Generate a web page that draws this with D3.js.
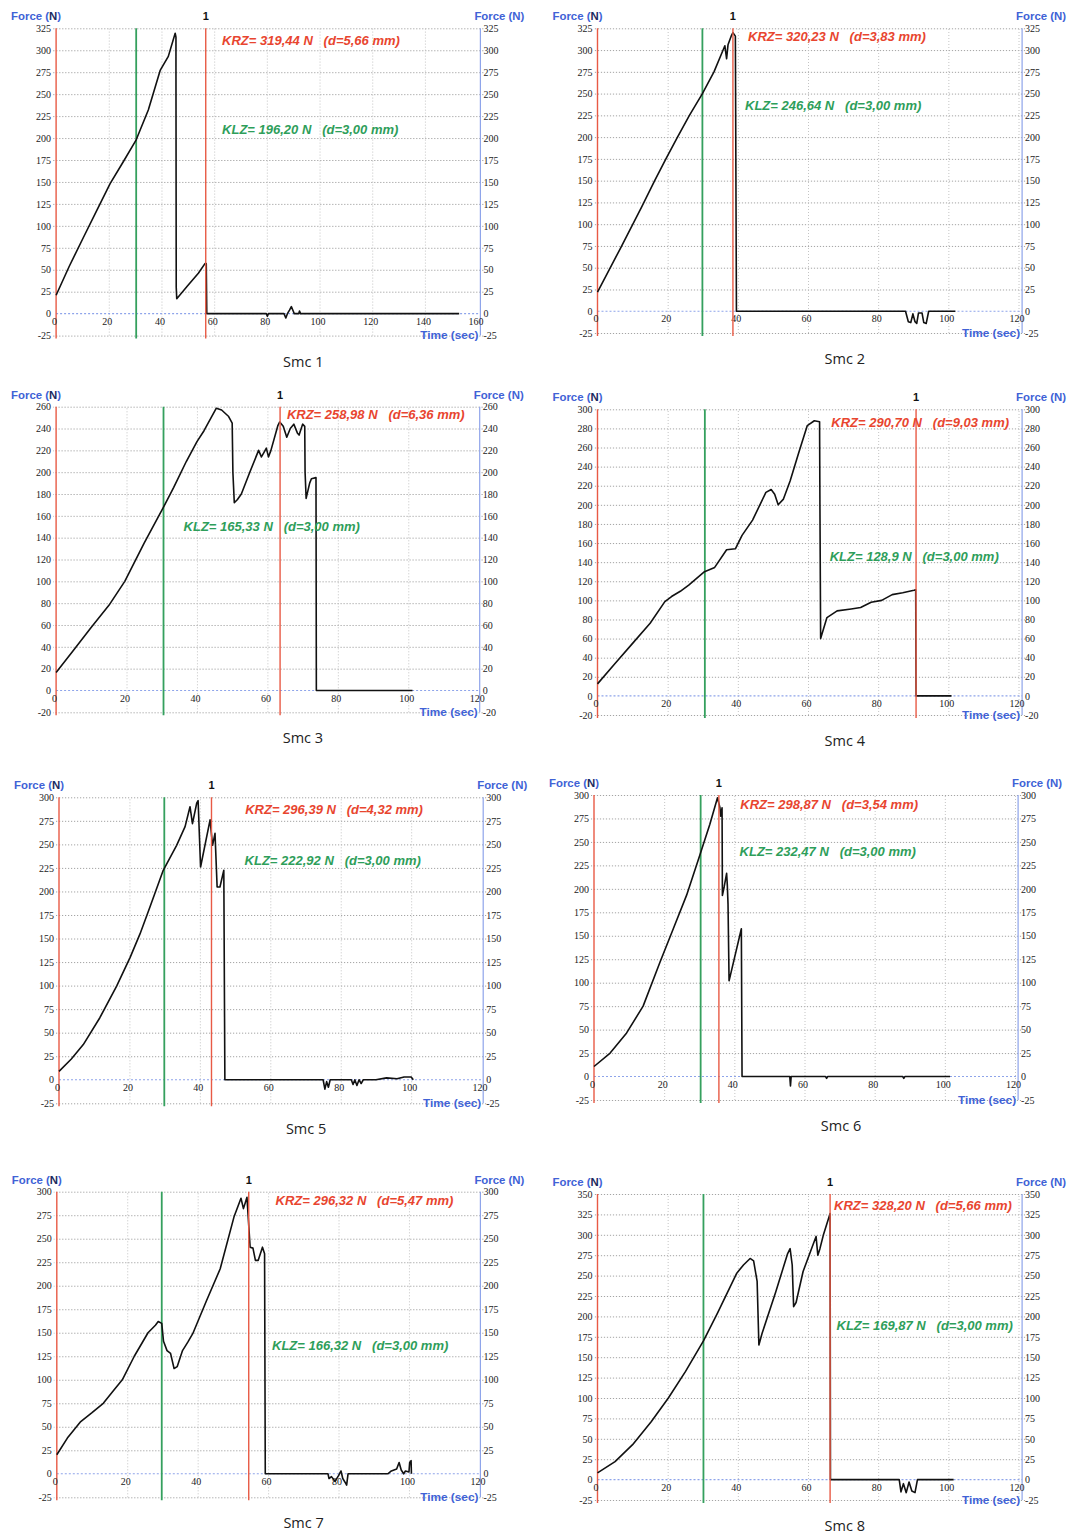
<!DOCTYPE html>
<html><head><meta charset="utf-8">
<script src="https://cdn.jsdelivr.net/npm/d3@7"></script>
<style>body{margin:0;background:#fff} svg{display:block}</style>
</head><body>
<svg id="c" width="1067" height="1534"></svg>
<script>
// ---------- DATA ----------
const panelTitles = ["Smc 1","Smc 2","Smc 3","Smc 4","Smc 5","Smc 6","Smc 7","Smc 8"];
const krzLabels = ["KRZ= 319,44 N   (d=5,66 mm)","KRZ= 320,23 N   (d=3,83 mm)","KRZ= 258,98 N   (d=6,36 mm)","KRZ= 290,70 N   (d=9,03 mm)",
                   "KRZ= 296,39 N   (d=4,32 mm)","KRZ= 298,87 N   (d=3,54 mm)","KRZ= 296,32 N   (d=5,47 mm)","KRZ= 328,20 N   (d=5,66 mm)"];
const klzLabels = ["KLZ= 196,20 N   (d=3,00 mm)","KLZ= 246,64 N   (d=3,00 mm)","KLZ= 165,33 N   (d=3,00 mm)","KLZ= 128,9 N   (d=3,00 mm)",
                   "KLZ= 222,92 N   (d=3,00 mm)","KLZ= 232,47 N   (d=3,00 mm)","KLZ= 166,32 N   (d=3,00 mm)","KLZ= 169,87 N   (d=3,00 mm)"];
const krzTimes = [56.8, 38.6, 63.6, 90.8, 43.3, 35.6, 54.5, 66.3];
const klzTimes = [30.4, 29.9, 30.5, 30.6, 29.9, 30.4, 29.8, 30.2];
const yMinValues = [-25,-25,-20,-20,-25,-25,-25,-25];
const yMaxValues = [325,325,260,300,300,300,300,350];
const yTickSteps = [25,25,20,20,25,25,25,25];
const xMaxValues = [160,120,120,120,120,120,120,120];
const xTickStep = 20;

const smc1 = [[0,21],[5,54],[10.4,87],[15.5,118],[20.5,148],[25.5,173],[30.4,198],[35,232],[39.5,277],[42.6,293],[45.2,319.4],[45.5,315],[45.5,280],[45.6,30],[45.8,17],[50,32],[54,46],[56.5,57],[57,57],[57.2,0],[79.8,0],[80.2,-3],[80.6,0],[86.5,0],[87.2,-5],[87.8,0],[88.6,4],[89.3,8],[90,3],[90.4,0],[92.1,0],[92.4,3],[92.8,0],[153,0]];
const smc2 = [[0,22],[6.5,72],[12.6,120],[16.3,150],[19.5,175],[22.8,200],[26.2,225],[29.9,250],[33.2,275],[35.8,300],[36.3,305],[36.8,290],[37.2,306],[38.2,317],[38.6,320],[39.3,316],[39.6,0],[87.8,0],[88.6,-12],[89.3,-13],[89.9,-3],[90.5,-12],[91,-14],[91.5,-2],[92.5,-2],[93,-13],[93.7,-14],[94.4,0],[102,0]];
const smc3 = [[0,16.5],[5,37],[10,58],[15,78],[19.5,100],[25,135],[30.5,168],[33.4,186],[37,210],[40,228],[42,238],[45.5,258.6],[47,257],[49,251],[50,245],[50.2,200],[50.6,172],[51.5,175],[52.6,180],[55,200],[57.5,220],[58.3,214],[59,218],[59.7,222],[60.3,214],[61,220],[63,243],[63.5,246],[64.5,242],[65.5,232],[66.5,240],[67.5,244],[68.5,236],[69,234],[70,244],[70.6,242],[70.7,200],[71,176],[72,190],[72.5,194],[73.8,195],[73.9,0],[101.2,0]];
const smc4 = [[0,12.6],[5,34],[10,55],[15,76],[19.2,98.7],[21.1,104],[23.6,109.5],[26,116],[30.5,130],[33.4,134.5],[36.8,153],[39.3,154],[41.2,168],[44.2,184],[48,213],[49.5,216],[50.5,211],[51.5,200],[53,206],[54.9,225],[57.4,255],[59.8,283],[61.8,288],[63.3,287],[63.4,200],[63.6,60],[65.4,82],[68.3,89],[72.3,91],[75,92.5],[78,98],[81,100],[84,106],[87,108],[90.2,110.5],[90.7,111],[90.8,0],[100.9,0]];
const smc5 = [[0,8.9],[3.5,22],[6.9,37.4],[11.6,65.9],[16.4,99.7],[20.2,130],[23,154.9],[25.8,183.3],[29.6,222.5],[33.4,249],[35.8,268.8],[37.2,290],[37.9,272],[39.1,293.7],[39.5,296.4],[40.2,226],[42.9,276],[43.6,249],[44.3,261.7],[44.9,204.7],[45.7,204.7],[46.8,222.5],[47.1,0],[75,0],[75.5,-10],[76,-2],[76.5,-8],[77,0],[83,0],[83.5,-5],[84,0],[84.6,-6],[85.2,0],[85.8,-4],[86.4,0],[90,0],[93,2],[96,1],[98,3],[100,3],[100.6,0]];
const smc6 = [[0,10.7],[4.6,25],[9.3,46.5],[14,75],[18.8,121.7],[22.6,157.5],[26.4,193.3],[30.2,236.3],[33,268.5],[35.2,297.1],[35.9,286.4],[36.1,277.5],[36.5,286.4],[36.6,193],[37.1,202],[37.8,216.6],[38,204],[38.2,184],[38.5,102],[42,157.5],[42.2,0],[55.8,0],[56,-10],[56.2,0],[66,0],[66.3,-2],[66.6,0],[88,0],[88.3,-2],[88.6,0],[101.5,0]];
const smc7 = [[0,20.2],[3,38],[6.8,55.6],[10,65],[13.2,75],[16,88],[18.6,100],[22,125],[25.9,150],[28,158],[28.8,162],[29.8,160],[30.3,141],[31.3,131],[32.3,128],[33.3,112],[34.2,114],[35.7,131],[37.2,140],[38.6,149],[42.5,184],[46.4,218],[50.3,273],[52.3,293],[53,282],[54,294],[54.4,270],[54.9,241],[55.7,240],[56.4,227],[57.2,227],[58.4,241],[59,234],[59.2,0],[77,0],[77.3,-5],[78,-3],[79,-8],[80,-2],[80.7,3],[81.2,-5],[82,-10],[82.3,-12],[82.7,0],[94,0],[95,3],[96.5,5],[97.2,12],[97.8,4],[98.5,0],[99,3],[100,2],[100.2,12],[100.6,14],[100.7,0]];
const smc8 = [[0,8.2],[5,22],[10,42.8],[15.3,71],[20.2,100],[25.1,132.6],[30.2,170],[34.2,204],[39.7,253],[41.6,263],[43.5,271],[44.5,268],[45.5,243],[46,165],[46.9,179],[50.8,230],[54.2,277],[54.9,283],[55.5,263],[55.9,212],[56.6,217],[58.6,255],[61,283],[62.3,298],[62.8,275],[63.4,283],[64.4,300],[66.3,326],[66.4,0],[86,0],[86.5,-15],[87.2,-5],[88,-16],[88.8,-3],[89.6,-14],[90.5,-16],[91.2,0],[101.5,0]];
const seriesList = [smc1,smc2,smc3,smc4,smc5,smc6,smc7,smc8];

// ---------- LAYOUT (pixels) ----------
const layout = [
  {left:56.1, right:480.4,  top:28.3,   bottom:335.6,  span:421.5, krz:[222.1,40.7],  klz:[222.1,129.3]},
  {left:597.5,right:1022.1, top:28.3,   bottom:333,    span:421,   krz:[748.1,36.7],  klz:[745,105]},
  {left:56.1, right:479.7,  top:406.7,  bottom:712.3,  span:422.6, krz:[286.9,414.3], klz:[183.6,526.7]},
  {left:597.5,right:1022.1, top:409.3,  bottom:715,    span:421,   krz:[831.3,422.3], klz:[829.7,556.7]},
  {left:59,   right:483.2,  top:797.3,  bottom:1103.3, span:422.6, krz:[245.2,809.3], klz:[244.6,860.7]},
  {left:594,  right:1018.1, top:795,    bottom:1100,   span:421,   krz:[740.3,804.3], klz:[739.6,851.7]},
  {left:56.8, right:480.4,  top:1191.7, bottom:1497.3, span:422.6, krz:[275.6,1200],  klz:[272,1345]},
  {left:597.5,right:1022.1, top:1194,   bottom:1500,   span:421,   krz:[834.1,1205],  klz:[836.5,1325]}
];

const BLUE = "#4062d6", AXBLUE = "#8ea4ea", RED = "#e8452f", REDLINE = "#e85a45", GREEN = "#2e9e5a", GREENLINE = "#35a05e";
const SANS = "'Liberation Sans', Arial, sans-serif";
const svg = d3.select("#c");

seriesList.forEach((data, i) => {
  const L = layout[i];
  const x = d3.scaleLinear().domain([0, xMaxValues[i]]).range([L.left, L.left + L.span]);
  const y = d3.scaleLinear().domain([yMinValues[i], yMaxValues[i]]).range([L.bottom, L.top]);
  const yTicks = d3.range(yMinValues[i], yMaxValues[i] + 0.001, yTickSteps[i]);
  const xTicks = d3.range(0, xMaxValues[i] + 0.001, xTickStep);
  const g = svg.append("g");

  // horizontal grid
  g.append("g").attr("transform", `translate(${L.right + 3},0)`)
    .call(d3.axisLeft(y).tickValues(yTicks.filter(v => v !== 0)).tickSize(L.right - L.left + 6).tickFormat(""))
    .call(s => s.select(".domain").remove())
    .selectAll("line").attr("stroke", "#9a9a9a").attr("stroke-dasharray", "1.2,1.8").attr("stroke-width", 0.9);
  // vertical grid
  g.append("g").attr("transform", `translate(0,${L.bottom})`)
    .call(d3.axisBottom(x).tickValues(xTicks.filter(v => v > 0 && x(v) < L.right - 3)).tickSize(-(L.bottom - L.top)).tickFormat(""))
    .call(s => s.select(".domain").remove())
    .selectAll("line").attr("stroke", "#bdbdbd").attr("stroke-dasharray", "1,2").attr("stroke-width", 0.9);
  // zero line (blue dotted)
  g.append("line").attr("x1", L.left).attr("x2", L.right).attr("y1", y(0)).attr("y2", y(0))
    .attr("stroke", AXBLUE).attr("stroke-dasharray", "2,2").attr("stroke-width", 1.1);

  // right axis line
  g.append("line").attr("x1", L.right).attr("x2", L.right).attr("y1", L.top).attr("y2", L.bottom)
    .attr("stroke", AXBLUE).attr("stroke-width", 1.2);
  // left axis line (red)
  g.append("line").attr("x1", L.left).attr("x2", L.left).attr("y1", L.top).attr("y2", L.bottom + 3)
    .attr("stroke", REDLINE).attr("stroke-width", 1.4);
  // KLZ green line
  g.append("line").attr("x1", x(klzTimes[i])).attr("x2", x(klzTimes[i])).attr("y1", L.top).attr("y2", L.bottom + 3)
    .attr("stroke", GREENLINE).attr("stroke-width", 1.8);

  // tick labels
  const tickStyle = s => {
    s.select(".domain").remove();
    s.selectAll("line").remove();
    s.selectAll("text").attr("font-family", "'Liberation Serif', 'DejaVu Serif', serif").attr("font-size", 10).attr("fill", "#222");
  };
  const fmt = d => String(d);
  g.append("g").attr("transform", `translate(${L.left},0)`)
    .call(d3.axisLeft(y).tickValues(yTicks).tickSize(0).tickPadding(5).tickFormat(fmt)).call(tickStyle);
  g.append("g").attr("transform", `translate(${L.right},0)`)
    .call(d3.axisRight(y).tickValues(yTicks).tickSize(0).tickPadding(3).tickFormat(fmt)).call(tickStyle);
  g.append("g").attr("transform", `translate(-2,${y(0)})`)
    .call(d3.axisBottom(x).tickValues(xTicks).tickSize(0).tickPadding(4).tickFormat(fmt)).call(tickStyle);

  // data curve
  g.append("path").datum(data)
    .attr("d", d3.line().x(d => x(d[0])).y(d => y(d[1])))
    .attr("fill", "none").attr("stroke", "#111").attr("stroke-width", 1.6).attr("stroke-linejoin", "round");

  // KRZ red line
  g.append("line").attr("x1", x(krzTimes[i])).attr("x2", x(krzTimes[i])).attr("y1", L.top).attr("y2", L.bottom + 3)
    .attr("stroke", REDLINE).attr("stroke-width", 1.4);
  // marker "1"
  g.append("text").attr("x", x(krzTimes[i])).attr("y", L.top - 8).attr("text-anchor", "middle")
    .attr("font-family", SANS).attr("font-weight", "bold").attr("font-size", 11)
    .attr("fill", "#111").text("1");

  // Force labels
  const lf = g.append("text").attr("x", L.left - 20).attr("y", L.top - 8).attr("text-anchor", "middle")
    .attr("font-family", SANS).attr("font-weight", "bold").attr("font-size", 11.4).attr("fill", BLUE);
  lf.append("tspan").text("Force (");
  lf.append("tspan").attr("fill", "#1c2a60").text("N");
  lf.append("tspan").text(")");
  g.append("text").attr("x", L.right + 19).attr("y", L.top - 8).attr("text-anchor", "middle")
    .attr("font-family", SANS).attr("font-weight", "bold").attr("font-size", 11.4)
    .attr("fill", BLUE).text("Force (N)");
  // Time label
  g.append("text").attr("x", L.right - 2).attr("y", L.bottom + 3.5).attr("text-anchor", "end")
    .attr("font-family", SANS).attr("font-weight", "bold").attr("font-size", 11.8)
    .attr("fill", BLUE).text("Time (sec)");

  // KRZ / KLZ annotations
  g.append("text").attr("x", L.krz[0]).attr("y", L.krz[1] + 4.5).style("white-space", "pre")
    .attr("font-family", SANS).attr("font-weight", "bold").attr("font-style", "italic")
    .attr("font-size", 13).attr("fill", RED).text(krzLabels[i]);
  g.append("text").attr("x", L.klz[0]).attr("y", L.klz[1] + 4.5).style("white-space", "pre")
    .attr("font-family", SANS).attr("font-weight", "bold").attr("font-style", "italic")
    .attr("font-size", 13).attr("fill", GREEN).text(klzLabels[i]);

  // title
  g.append("text").attr("x", (L.left + L.right) / 2 + 35).attr("y", L.bottom + 31).attr("text-anchor", "middle")
    .attr("font-family", "'Open Sans', 'Noto Sans', sans-serif").attr("font-size", 14.5).attr("fill", "#222").text(panelTitles[i]);
});
</script>
</body></html>
